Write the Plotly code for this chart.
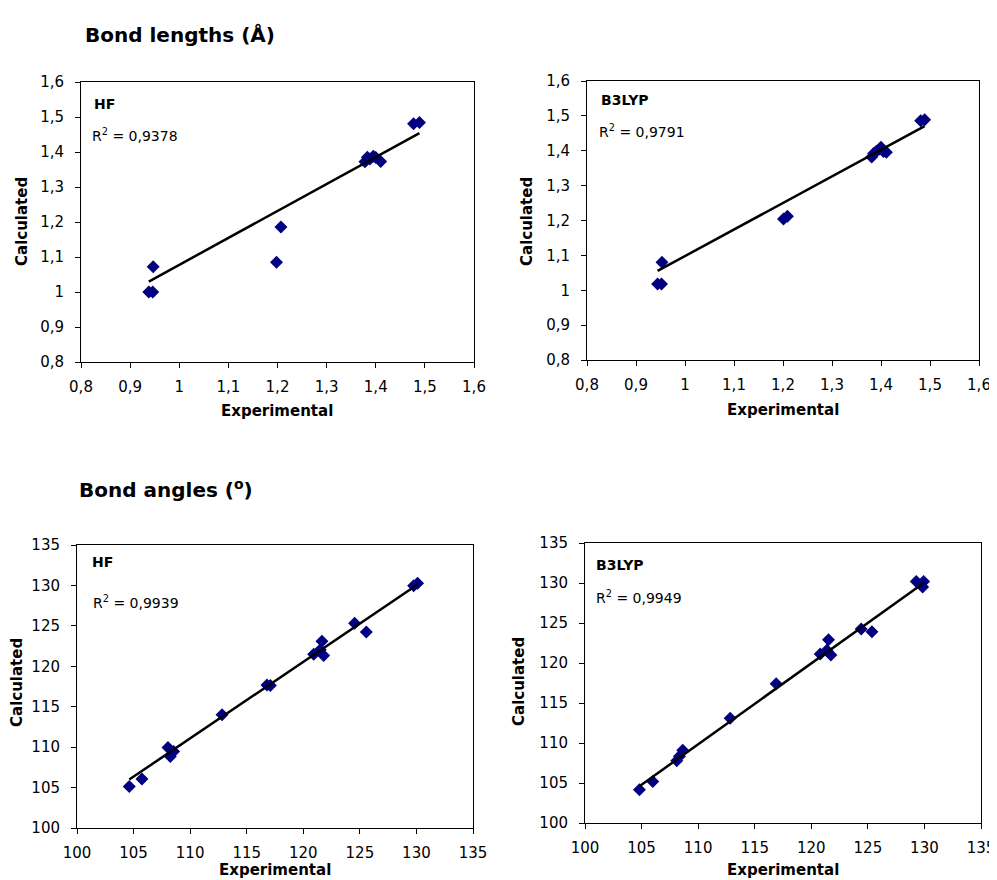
import plotly.graph_objects as go

# page body has an 8px margin, so the figure is offset by 8px in the window
OFF = 8
W, H = 997 - OFF, 880 - OFF
FONT = "DejaVu Sans"

# ---- tick labels ----
bl_ticks = [0.8, 0.9, 1.0, 1.1, 1.2, 1.3, 1.4, 1.5, 1.6]
bl_ticktext = ["0,8", "0,9", "1", "1,1", "1,2", "1,3", "1,4", "1,5", "1,6"]
ba_ticks = [100, 105, 110, 115, 120, 125, 130, 135]
ba_ticktext = ["100", "105", "110", "115", "120", "125", "130", "135"]

# ---- Bond lengths, HF ----
bl_hf_exp = [0.938, 0.946, 0.947, 1.198, 1.207, 1.378, 1.383, 1.388, 1.395, 1.400, 1.410, 1.477, 1.489]
bl_hf_calc = [1.000, 1.000, 1.072, 1.085, 1.186, 1.372, 1.385, 1.380, 1.388, 1.384, 1.373, 1.481, 1.484]
bl_hf_trend = [0.770, 0.3075]  # slope, intercept (as drawn)
bl_hf_r2 = "0,9378"

# ---- Bond lengths, B3LYP ----
bl_b3_exp = [0.944, 0.952, 0.953, 1.201, 1.209, 1.381, 1.385, 1.390, 1.397, 1.400, 1.405, 1.411, 1.481, 1.489]
bl_b3_calc = [1.018, 1.018, 1.080, 1.204, 1.212, 1.382, 1.392, 1.398, 1.405, 1.410, 1.398, 1.396, 1.486, 1.489]
bl_b3_trend = [0.762, 0.336]
bl_b3_r2 = "0,9791"

# ---- Bond angles, HF ----
ba_hf_exp = [104.62, 105.74, 108.04, 108.25, 108.54, 112.82, 116.79, 117.09, 120.92, 121.65, 121.5, 121.8, 124.54, 125.57, 129.75, 130.1]
ba_hf_calc = [105.14, 106.05, 109.96, 108.85, 109.46, 114.0, 117.70, 117.62, 121.49, 123.10, 122.03, 121.33, 125.32, 124.25, 129.97, 130.26]
ba_hf_trend = [0.9466, 6.96]
ba_hf_r2 = "0,9939"

# ---- Bond angles, B3LYP ----
ba_b3_exp = [104.81, 105.99, 108.11, 108.35, 108.64, 112.83, 116.9, 120.79, 121.52, 121.38, 121.73, 124.41, 125.36, 129.28, 129.93, 129.84]
ba_b3_calc = [104.16, 105.2, 107.79, 108.33, 109.08, 113.08, 117.41, 121.12, 122.91, 121.58, 121.0, 124.25, 123.91, 130.2, 130.2, 129.5]
ba_b3_trend = [1.0115, -1.425]
ba_b3_r2 = "0,9949"

method_labels = ["HF", "B3LYP", "HF", "B3LYP"]
section_titles = ["Bond lengths (Å)", "Bond angles (<sup>o</sup>)"]
x_title = "Experimental"
y_title = "Calculated"

panels = [
    dict(x=bl_hf_exp, y=bl_hf_calc, tr=bl_hf_trend, r2=bl_hf_r2, ticks=bl_ticks, tt=bl_ticktext,
         box=(81, 474, 82, 362), lab=(92, 104), r2p=(90, 135), xt=(277, 411), yt=(22, 222)),
    dict(x=bl_b3_exp, y=bl_b3_calc, tr=bl_b3_trend, r2=bl_b3_r2, ticks=bl_ticks, tt=bl_ticktext,
         box=(587, 979, 81, 360), lab=(599, 100), r2p=(597, 131), xt=(783, 410), yt=(527, 222)),
    dict(x=ba_hf_exp, y=ba_hf_calc, tr=ba_hf_trend, r2=ba_hf_r2, ticks=ba_ticks, tt=ba_ticktext,
         box=(77, 473, 545, 828), lab=(90, 562), r2p=(91, 602), xt=(275, 870), yt=(17, 683)),
    dict(x=ba_b3_exp, y=ba_b3_calc, tr=ba_b3_trend, r2=ba_b3_r2, ticks=ba_ticks, tt=ba_ticktext,
         box=(585, 981, 543, 823), lab=(594, 565), r2p=(594, 597), xt=(783, 870), yt=(519, 681)),
]


def px(v):
    return (v - OFF) / W


def py(v):
    return 1 - (v - OFF) / H


fig = go.Figure()
layout = dict(
    template="none",
    width=W, height=H, margin=dict(l=0, r=0, t=0, b=0, pad=0),
    paper_bgcolor="white", plot_bgcolor="white", showlegend=False,
    font=dict(family=FONT, color="black"),
)
annotations = []

for i, p in enumerate(panels):
    n = "" if i == 0 else str(i + 1)
    xa, ya = "x" + n, "y" + n
    fig.add_trace(go.Scatter(
        x=p["x"], y=p["y"], mode="markers", xaxis=xa, yaxis=ya,
        marker=dict(symbol="diamond", size=10, color="#000080", line=dict(width=0)),
    ))
    xmin, xmax = min(p["x"]), max(p["x"])
    slope, icpt = p["tr"]
    fig.add_trace(go.Scatter(
        x=[xmin, xmax], y=[slope * xmin + icpt, slope * xmax + icpt], mode="lines",
        xaxis=xa, yaxis=ya, line=dict(color="black", width=2.5),
    ))
    x0, x1, y0, y1 = p["box"]
    axcommon = dict(
        automargin=False,
        showgrid=False, zeroline=False, showline=True, linecolor="black", linewidth=1,
        mirror=True, ticks="outside", ticklen=5, tickcolor="black", tickwidth=1,
        tickfont=dict(family=FONT, size=15, color="black"),
        tickvals=p["ticks"], ticktext=p["tt"], range=[p["ticks"][0], p["ticks"][-1]],
        fixedrange=True,
    )
    layout["xaxis" + n] = dict(axcommon, domain=[px(x0), px(x1)], anchor=ya, ticklabelstandoff=6)
    layout["yaxis" + n] = dict(axcommon, domain=[py(y1), py(y0)], anchor=xa, ticklabelstandoff=8)

    annotations.append(dict(text="<b>%s</b>" % method_labels[i], x=px(p["lab"][0]), y=py(p["lab"][1]),
                            xref="paper", yref="paper", xanchor="left", yanchor="middle",
                            showarrow=False, font=dict(family=FONT, size=14, color="black")))
    annotations.append(dict(text="R<sup>2</sup> = %s" % p["r2"], x=px(p["r2p"][0]), y=py(p["r2p"][1]),
                            xref="paper", yref="paper", xanchor="left", yanchor="middle",
                            showarrow=False, font=dict(family=FONT, size=14, color="black")))
    annotations.append(dict(text="<b>%s</b>" % x_title, x=px(p["xt"][0]), y=py(p["xt"][1]),
                            xref="paper", yref="paper", xanchor="center", yanchor="middle",
                            showarrow=False, font=dict(family=FONT, size=15, color="black")))
    annotations.append(dict(text="<b>%s</b>" % y_title, x=px(p["yt"][0]), y=py(p["yt"][1]),
                            xref="paper", yref="paper", xanchor="center", yanchor="middle",
                            textangle=-90, showarrow=False,
                            font=dict(family=FONT, size=15, color="black")))

annotations.append(dict(text="<b>%s</b>" % section_titles[0], x=px(83), y=py(35), xref="paper", yref="paper",
                        xanchor="left", yanchor="middle", showarrow=False,
                        font=dict(family=FONT, size=20, color="black")))
annotations.append(dict(text="<b>%s</b>" % section_titles[1], x=px(77), y=py(489), xref="paper", yref="paper",
                        xanchor="left", yanchor="middle", showarrow=False,
                        font=dict(family=FONT, size=20, color="black")))

layout["annotations"] = annotations
fig.update_layout(**layout)
fig.write_html("out.html")
